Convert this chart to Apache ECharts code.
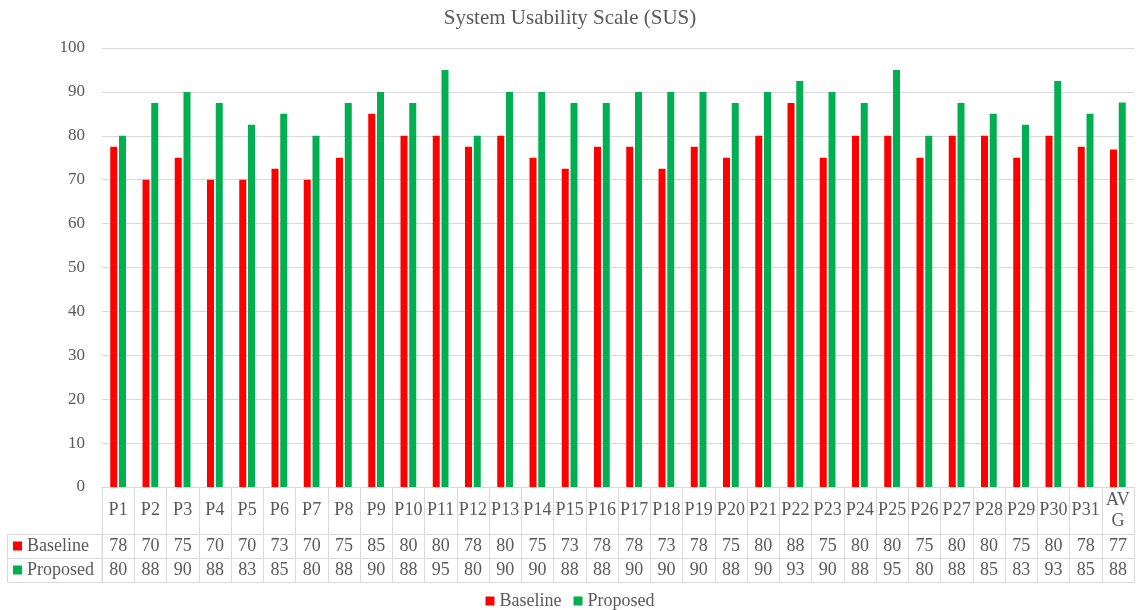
<!DOCTYPE html>
<html>
<head>
<meta charset="utf-8">
<title>System Usability Scale (SUS)</title>
<script src="https://cdn.jsdelivr.net/npm/echarts@6/dist/echarts.min.js"></script>
<style>
  html, body { margin: 0; padding: 0; background: #fff; }
  #chart { width: 1140px; height: 610px; }
</style>
</head>
<body>
<div id="chart"></div>
<script>
  // participants + average
  var categories = ['P1', 'P2', 'P3', 'P4', 'P5', 'P6', 'P7', 'P8', 'P9', 'P10',
    'P11', 'P12', 'P13', 'P14', 'P15', 'P16', 'P17', 'P18', 'P19', 'P20',
    'P21', 'P22', 'P23', 'P24', 'P25', 'P26', 'P27', 'P28', 'P29', 'P30',
    'P31', 'AVG'];

  // SUS scores
  var baseline = [77.5, 70, 75, 70, 70, 72.5, 70, 75, 85, 80,
    80, 77.5, 80, 75, 72.5, 77.5, 77.5, 72.5, 77.5, 75,
    80, 87.5, 75, 80, 80, 75, 80, 80, 75, 80,
    77.5, 76.9];
  var proposed = [80, 87.5, 90, 87.5, 82.5, 85, 80, 87.5, 90, 87.5,
    95, 80, 90, 90, 87.5, 87.5, 90, 90, 90, 87.5,
    90, 92.5, 90, 87.5, 95, 80, 87.5, 85, 82.5, 92.5,
    85, 87.6];

  var yTicks = { min: 0, max: 100, interval: 10 };

  var textColor = '#595959';
  var lineColor = '#D9D9D9';
  var font = 'Liberation Serif';

  // layout of the data table under the plot
  var gridLeft = 102, gridRight = 6, gridTop = 48, gridBottom = 123;
  var catRow = 47, rowH = 24;

  var chart = echarts.init(document.getElementById('chart'));

  // extra x axes only draw the table rows
  function tableAxis(offset, values, showLabel) {
    return {
      type: 'category',
      data: categories,
      position: 'bottom',
      offset: offset,
      axisLine: { show: true, lineStyle: { color: lineColor, width: 1 } },
      axisTick: { show: false },
      axisLabel: {
        show: showLabel,
        interval: 0,
        margin: rowH / 2,
        verticalAlign: 'middle',
        color: textColor,
        fontFamily: font,
        fontSize: 18,
        formatter: function (v, i) { return values ? String(Math.round(values[i])) : ''; }
      }
    };
  }

  var option = {
    animation: false,
    title: {
      text: 'System Usability Scale (SUS)',
      left: 'center',
      top: 8,
      padding: 0,
      textStyle: { color: textColor, fontFamily: font, fontSize: 21, fontWeight: 'normal' }
    },
    legend: [{
      data: ['Baseline', 'Proposed'],
      top: 592,
      left: 'center',
      padding: 0,
      icon: 'rect',
      itemWidth: 9,
      itemHeight: 9,
      itemGap: 12,
      selectedMode: false,
      textStyle: { color: textColor, fontFamily: font, fontSize: 18 }
    }, {
      // row headers of the data table
      data: ['Baseline', 'Proposed'],
      orient: 'vertical',
      left: 13,
      top: gridTop + 439 + catRow + 3,
      padding: 0,
      icon: 'rect',
      itemWidth: 9,
      itemHeight: 9,
      itemGap: 6,
      selectedMode: false,
      textStyle: { color: textColor, fontFamily: font, fontSize: 18 }
    }],
    graphic: [{
      type: 'rect',
      shape: { x: 7.5, y: 534.5, width: 94.5, height: 48 },
      style: { fill: null, stroke: lineColor, lineWidth: 1 }
    }, {
      type: 'line',
      shape: { x1: 7.5, y1: 558.5, x2: 102, y2: 558.5 },
      style: { stroke: lineColor, lineWidth: 1 }
    }],
    grid: { left: gridLeft, right: gridRight, top: gridTop, bottom: gridBottom, containLabel: false },
    xAxis: [{
      type: 'category',
      data: categories,
      axisLine: { show: true, lineStyle: { color: lineColor, width: 1 } },
      axisTick: {
        show: true,
        interval: 0,
        length: catRow + 2 * rowH + 1,
        lineStyle: { color: lineColor }
      },
      axisLabel: {
        interval: 0,
        margin: catRow / 2,
        verticalAlign: 'middle',
        width: 30,
        overflow: 'breakAll',
        lineHeight: 21,
        color: textColor,
        fontFamily: font,
        fontSize: 18
      }
    },
      tableAxis(catRow, baseline, true),
      tableAxis(catRow + rowH, proposed, true),
      tableAxis(catRow + 2 * rowH, null, false)
    ],
    yAxis: {
      type: 'value',
      min: yTicks.min,
      max: yTicks.max,
      interval: yTicks.interval,
      axisLine: { show: false },
      axisTick: { show: false },
      splitLine: { lineStyle: { color: lineColor } },
      axisLabel: { margin: 17, color: textColor, fontFamily: font, fontSize: 17 }
    },
    series: [{
      name: 'Baseline',
      type: 'bar',
      data: baseline,
      barWidth: 7,
      barGap: '25%',
      itemStyle: { color: '#FF0000' }
    }, {
      name: 'Proposed',
      type: 'bar',
      data: proposed,
      barWidth: 7,
      itemStyle: { color: '#00B050' }
    }]
  };

  chart.setOption(option);
</script>
</body>
</html>
